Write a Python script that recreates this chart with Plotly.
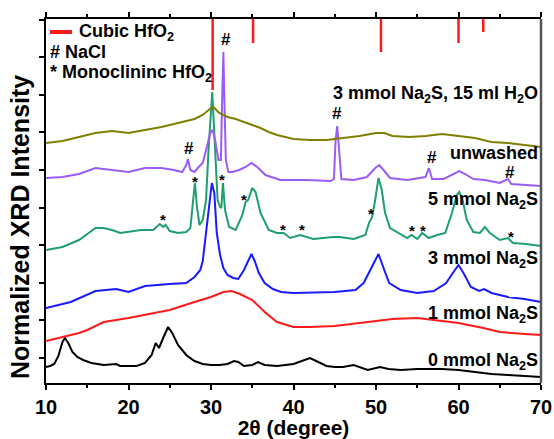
import plotly.graph_objects as go

# ---------------- data (2theta in degrees, intensity in a.u., stacked) -------------
x0 = [10, 10.5, 11, 11.5, 12, 12.3, 12.7, 13.2, 13.8, 14.5, 15.5, 17, 18.5, 19, 20, 21, 22, 22.8,
      23.3, 23.7, 24.2, 24.8, 25.3, 26, 27, 28, 29, 30, 31, 32, 32.8, 33.3, 34, 35, 35.7, 36.5,
      38, 39, 40, 41, 42, 43, 44, 45, 46, 47.3, 48, 49, 50.5, 51.5, 53, 55, 58, 60, 62, 64, 66,
      68, 70]
y0 = [16, 17, 19, 27, 41, 45, 40, 31, 26, 23, 20, 18, 19, 17, 17, 17, 20, 28,
      40, 35, 45, 56, 50, 38, 28, 22, 19, 18, 18, 19, 22, 21, 17, 18, 21, 18,
      17, 18, 19, 22, 25, 21, 17, 16, 16, 18, 16, 13, 16, 14, 13, 14, 14, 13, 11, 9, 8,
      7, 6]

x1 = [10, 12, 14, 15, 17, 20, 22, 25, 28, 30, 31.5, 32.5, 33.5, 35, 36.5, 38, 40, 42, 45, 48,
      50, 52, 55, 58, 60, 63, 65, 68, 70]
y1 = [42, 46, 50, 53, 61, 65, 68, 73, 81, 86, 91, 92, 89, 83, 71, 61, 56, 56, 57, 60,
      62, 64, 65, 62, 60, 55, 51, 49, 48]

x3 = [10, 13, 16, 18.5, 20, 22, 25, 27, 28, 28.7, 29.0, 29.4, 29.8, 30.1, 30.4, 30.7, 31.1,
      31.5, 32.0, 32.7, 33.3, 34.0, 34.5, 34.9, 35.3, 35.8, 36.5, 37.5, 38.5, 40, 45, 47.5,
      48.5, 49.3, 50.3, 51.0, 51.6, 53, 55, 57, 58.5, 59.4, 60.0, 60.6, 61.5, 62.5, 63.1, 64,
      66, 68, 70]
y3 = [75, 81, 92, 94, 91, 97, 99, 100, 106, 113, 122, 150, 180, 200, 190, 150, 128,
      115, 108, 105, 104, 113, 122, 129, 122, 110, 100, 94, 91, 90, 91, 93,
      100, 113, 129, 113, 100, 93, 90, 92, 100, 111, 118, 110, 96, 92, 94, 90,
      86, 84, 81]

x5 = [10, 12, 14, 16, 17, 18, 19, 20, 21.5, 23, 23.8, 24.2, 24.5, 25, 26, 27, 27.5, 27.8,
      28.05, 28.3, 28.6, 29.0, 29.4, 29.7, 30.0, 30.15, 30.5, 30.8, 31.1, 31.25, 31.45, 31.7,
      32.2, 33, 33.8, 34.2, 34.5, 35.0, 35.4, 36, 37, 38, 38.8, 39.6, 40.8, 42.4, 44.8, 45.6,
      47.3, 48.7, 49.2, 49.5, 49.9, 50.3, 50.7, 51.1, 51.7, 53.3, 53.8, 54.3, 55.0, 55.6,
      56.4, 57.4, 58.4, 59.2, 59.8, 60.1, 60.5, 61.0, 61.8, 62.6, 63.2, 63.8, 65.0, 66.0,
      66.6, 68.2, 70]
y5 = [133, 136, 143, 155, 155, 153, 150, 151, 153, 153, 159, 156, 158, 152, 150, 151, 155, 180,
      200, 176, 158, 163, 183, 233, 280, 291, 233, 183, 176, 175, 200, 173,
      156, 153, 168, 181, 183, 195, 191, 170, 153, 150, 150, 145, 148, 144, 146, 146,
      144, 148, 161, 165, 183, 205, 193, 170, 155, 148, 145, 148, 144, 150,
      145, 148, 150, 170, 188, 191, 183, 163, 151, 150, 156, 150, 143, 145,
      140, 139, 137]

xu = [10, 12, 14, 16, 18, 20, 22, 24, 25.5, 26.5, 27.0, 27.2, 27.5, 28.0, 28.5, 29.0, 29.5,
      29.9, 30.2, 30.5, 30.9, 31.2, 31.35, 31.5, 31.65, 31.8, 32.1, 32.6, 33.4, 34.2, 34.9,
      35.6, 36.6, 37.8, 38.4, 41.6, 44.5, 44.9, 45.1, 45.3, 45.5, 45.8, 47.3, 48.9, 49.9,
      50.4, 50.9, 51.7, 53.8, 54.6, 56.0, 56.4, 56.8, 58.2, 59.4, 60.1, 60.8, 61.8, 63.2,
      65.0, 66.0, 66.4, 68.2, 70]
yu = [205, 206, 209, 215, 213, 211, 215, 215, 213, 211, 218, 224, 213, 211, 216, 220, 236,
      250, 253, 243, 223, 223, 283, 331, 273, 223, 211, 211, 213, 216, 220,
      216, 208, 205, 203, 203, 202, 204, 243, 257, 233, 204, 203, 206, 215,
      218, 213, 205, 203, 204, 206, 215, 204, 204, 209, 212, 209, 204, 203,
      200, 204, 199, 198, 197]

xw = [10, 12, 14, 16, 18, 20, 22, 24, 26, 28, 29, 30, 30.3, 31, 32, 33, 34, 35, 36, 37, 38,
      40, 42, 44, 46, 48, 50, 51, 52, 54, 56, 58, 60, 62, 64, 66, 68, 70]
yw = [240, 242, 246, 250, 252, 250, 253, 256, 260, 264, 268, 275, 276, 270, 266, 264, 261,
      258, 255, 251, 248, 244, 243, 243, 245, 247, 250, 250, 247, 246, 247, 249, 247, 245,
      241, 240, 238, 236]

# cubic HfO2 reference peaks: position and lower end of the stick
ref_pos = [30.2, 35.1, 50.6, 60.0, 63.0]
ref_low = [293, 340, 331, 340, 351]
top_val = 364

series_names = ["0 mmol Na<sub>2</sub>S", "1 mmol Na<sub>2</sub>S", "3 mmol Na<sub>2</sub>S",
                "5 mmol Na<sub>2</sub>S", "unwashed", "3 mmol Na<sub>2</sub>S, 15 ml H<sub>2</sub>O"]
series_label_y = [25, 72, 127, 186, 230, 292]
series_label_shift = [-3, -3, -3, -3, 0, -3]
colors = ["#000000", "#ff1a1a", "#1a1aff", "#1f9e6e", "#9b5cf6", "#7f7f00"]

nacl_x = [31.8, 45.3, 27.3, 56.8, 66.2]
nacl_y = [344, 270, 235, 226, 211]
mono_x = [24.2, 28.1, 31.3, 34.0, 38.7, 41.0, 49.4, 54.4, 55.7, 66.4]
mono_y = [167, 205, 207, 187, 157, 157, 173, 156, 156, 150]

# ---------------- figure ----------------
fig = go.Figure()
data = [(x0, y0), (x1, y1), (x3, y3), (x5, y5), (xu, yu), (xw, yw)]
for (xs, ys), c in zip(data, colors):
    fig.add_trace(go.Scatter(x=xs, y=ys, mode="lines", line=dict(color=c, width=2),
                             showlegend=False, hoverinfo="skip"))

rx, ry = [], []
for p, lo in zip(ref_pos, ref_low):
    rx += [p, p, None]
    ry += [top_val, lo, None]
fig.add_trace(go.Scatter(x=rx, y=ry, mode="lines", line=dict(color="#ff1a1a", width=2.5),
                         showlegend=False, hoverinfo="skip"))

FONT = "Liberation Sans, Arial, sans-serif"
ann = []
for name, yv, ys in zip(series_names, series_label_y, series_label_shift):
    ann.append(dict(x=69.9, y=yv, xref="x", yref="y", text="<b>" + name + "</b>",
                    showarrow=False, xanchor="right", yanchor="middle", yshift=ys,
                    font=dict(family=FONT, size=18, color="black")))
for xv, yv in zip(nacl_x, nacl_y):
    ann.append(dict(x=xv, y=yv, xref="x", yref="y", text="<b>#</b>", showarrow=False,
                    xanchor="center", yanchor="middle",
                    font=dict(family=FONT, size=17, color="black")))
for xv, yv in zip(mono_x, mono_y):
    ann.append(dict(x=xv, y=yv, xref="x", yref="y", text="<b>*</b>", showarrow=False,
                    xanchor="center", yanchor="middle", yshift=-3,
                    font=dict(family=FONT, size=15, color="black")))

# legend-like text block
ann.append(dict(x=(77 - 46) / 495, y=(383 - 33) / 364, xref="paper", yref="paper",
                text="<b>Cubic HfO<sub>2</sub></b>", showarrow=False, xanchor="left",
                yanchor="middle", yshift=0, font=dict(family=FONT, size=18, color="black")))
ann.append(dict(x=(48 - 46) / 495, y=(383 - 52) / 364, xref="paper", yref="paper",
                text="<b># NaCl</b>", showarrow=False, xanchor="left",
                yanchor="middle", font=dict(family=FONT, size=18, color="black")))
ann.append(dict(x=(48 - 46) / 495, y=(383 - 72) / 364, xref="paper", yref="paper",
                text="<b>* Monoclininc HfO<sub>2</sub></b>", showarrow=False, xanchor="left",
                yanchor="middle", yshift=-1, font=dict(family=FONT, size=18, color="black")))
# y axis title (placed as annotation to match its off-centre position)
ann.append(dict(x=(20 - 46) / 495, y=(383 - 227) / 364, xref="paper", yref="paper",
                text="<b>Normalized XRD Intensity</b>", textangle=-90, showarrow=False,
                xanchor="center", yanchor="middle",
                font=dict(family=FONT, size=25, color="black")))

shapes = [
    dict(type="line", xref="paper", yref="paper", x0=(50 - 46) / 495, x1=(72 - 46) / 495,
         y0=(383 - 32) / 364, y1=(383 - 32) / 364, line=dict(color="#ff1a1a", width=4)),
    dict(type="line", xref="paper", yref="paper", x0=1, x1=1, y0=0, y1=1,
         line=dict(color="#555555", width=2.5)),
]

fig.update_layout(
    width=554, height=439,
    margin=dict(l=46, r=13, t=19, b=56),
    paper_bgcolor="white", plot_bgcolor="white",
    annotations=ann, shapes=shapes, showlegend=False,
    font=dict(family=FONT, color="black"),
)
fig.update_xaxes(
    range=[10, 70], dtick=10, tick0=10, showgrid=False, zeroline=False, automargin=False,
    showline=True, linecolor="black", linewidth=1.5, mirror="ticks",
    ticks="outside", ticklen=5, tickwidth=1.5, tickcolor="black",
    minor=dict(dtick=5, ticks="outside", ticklen=3, tickwidth=1.5, tickcolor="black"),
    tickfont=dict(family=FONT, size=20, color="black", weight="bold"),
    title=dict(text="<b>2θ (degree)</b>", font=dict(family=FONT, size=21, color="black"),
               standoff=0),
)
fig.update_yaxes(
    range=[0, 364], tick0=25, dtick=37.6, showgrid=False, zeroline=False, automargin=False,
    showline=True, linecolor="black", linewidth=1.5,
    ticks="outside", ticklen=5, tickwidth=1.5, tickcolor="black", showticklabels=False,
)

fig.write_html("out.html")
